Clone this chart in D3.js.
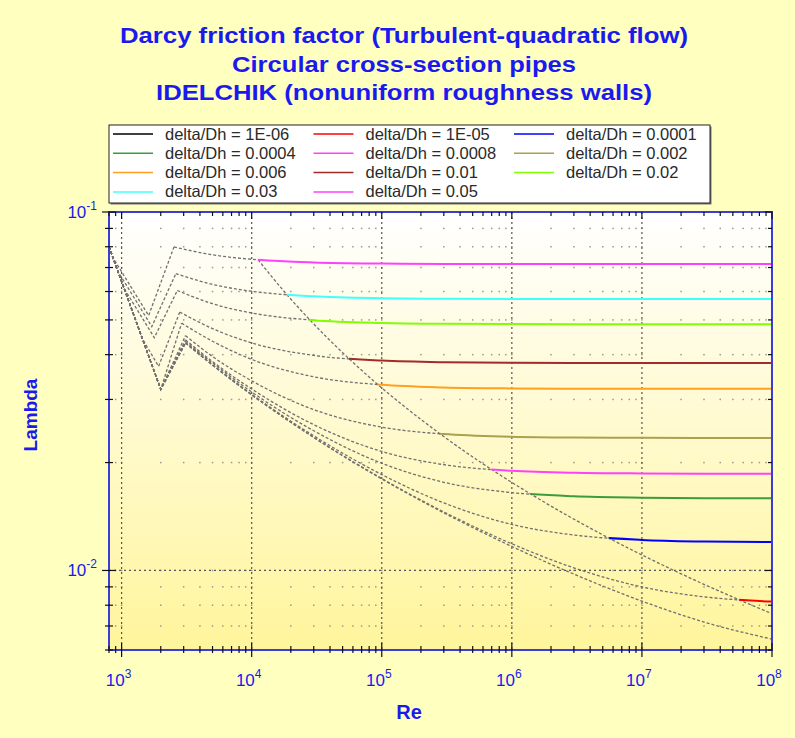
<!DOCTYPE html>
<html>
<head>
<meta charset="utf-8">
<script src="https://cdn.jsdelivr.net/npm/d3@7"></script>
<style>
  body { margin: 0; background: #ffffc0; }
  svg { display: block; font-family: 'Liberation Sans', Arial, sans-serif; }
</style>
</head>
<body>
<div id="chart"></div>
<script>
// relative roughness of every curve (legend order)
const roughness = [1e-6, 1e-5, 1e-4, 4e-4, 8e-4, 0.002, 0.006, 0.01, 0.02, 0.03, 0.05];
const legendLabels = [
  'delta/Dh = 1E-06', 'delta/Dh = 1E-05', 'delta/Dh = 0.0001',
  'delta/Dh = 0.0004', 'delta/Dh = 0.0008', 'delta/Dh = 0.002',
  'delta/Dh = 0.006', 'delta/Dh = 0.01', 'delta/Dh = 0.02',
  'delta/Dh = 0.03', 'delta/Dh = 0.05'
];
const lineColors = ['#000000', '#ff0000', '#0000ff', '#3c9c3c', '#ff40ff', '#aaa050',
                    '#ffa020', '#a52a2a', '#80ff00', '#40ffff', '#ff40ff'];

// laminar + transition part [Re, lambda], last knot = start of turbulent branch
const lowReKnots = [
  [[800, 0.08], [2000, 0.032], [3100, 0.0431]],
  [[800, 0.08], [2000, 0.032], [3100, 0.0431]],
  [[800, 0.08], [2000, 0.032], [3100, 0.0432]],
  [[800, 0.08], [2000, 0.032], [3100, 0.04355]],
  [[800, 0.08], [2000, 0.032], [3100, 0.0440]],
  [[800, 0.08], [2000, 0.032], [3100, 0.0452]],
  [[800, 0.08], [2000, 0.032], [2892, 0.04897]],
  [[800, 0.08], [1444, 0.0443], [1925, 0.0371], [2800, 0.05258]],
  [[800, 0.08], [1044, 0.0613], [1784, 0.0446], [2679, 0.0604]],
  [[800, 0.08], [936, 0.0683], [1706, 0.0479], [2611, 0.0673]],
  [[800, 0.08], [858, 0.0746], [1613, 0.0514], [2528, 0.0799]]
];

// turbulent branch, lambda read at these Re
const turbRe = [5e3, 1e4, 3e4, 1e5, 3e5, 1e6, 3e6, 1e7, 3e7, 1e8];
const turbLambda = [
  [0.0374, 0.0309, 0.02349, 0.0180, 0.014475, 0.011668, 0.009769, 0.008213, 0.007181, 0.006433],
  [0.0374, 0.0309, 0.02352, 0.01805, 0.014568, 0.01187, 0.010168, 0.008996, 0.008442, 0.008187],
  [0.03753, 0.03103, 0.02375, 0.018515, 0.015432, 0.013441, 0.012556, 0.012167, 0.012044, 0.011999],
  [0.03792, 0.03148, 0.02453, 0.01991, 0.01762, 0.01649, 0.0161, 0.01596, 0.015914, 0.0159],
  [0.03825, 0.03208, 0.02551, 0.02148, 0.01973, 0.01897, 0.01873, 0.01865, 0.018623, 0.018615],
  [0.03952, 0.03381, 0.0281, 0.02511, 0.02402, 0.02361, 0.02348, 0.02344, 0.023427, 0.023422],
  [0.0436, 0.0388, 0.0347, 0.03295, 0.0324, 0.0322, 0.032145, 0.032124, 0.03212, 0.03212],
  [0.04728, 0.04313, 0.0398, 0.0385, 0.0381, 0.03797, 0.03792, 0.03791, 0.0379, 0.0379],
  [0.05549, 0.05227, 0.04991, 0.04903, 0.04877, 0.04868, 0.048649, 0.04864, 0.04864, 0.04864],
  [0.06281, 0.06011, 0.05818, 0.05748, 0.05728, 0.05721, 0.05718, 0.05717, 0.05717, 0.05717],
  [0.07595, 0.0738, 0.07232, 0.07178, 0.07163, 0.07158, 0.07156, 0.07155, 0.07155, 0.07155]
];

// Re where each curve enters the quadratic zone (coloured from there on)
const quadStartRe = [5.6e8, 5.6e7, 5.6e6, 1.4e6, 7e5, 2.8e5, 93333, 56000, 28000, 18667, 11200];

// limit line of the quadratic zone
const limitRe = [11200, 18667, 28000, 56000, 93333, 140000, 280000, 560000, 700000, 1.4e6, 2.8e6, 5.6e6, 1.867e7, 5.6e7, 1e8];
const limitLambda = [0.07359, 0.05879, 0.05000, 0.03897, 0.03301, 0.02921, 0.02407, 0.02017, 0.01912, 0.01633, 0.0141, 0.01230, 0.009904, 0.00828, 0.007577];

const xTickExp = [3, 4, 5, 6, 7, 8];
const yTickExp = [-1, -2];
const titleLines = [
  'Darcy friction factor (Turbulent-quadratic flow)',
  'Circular cross-section pipes',
  'IDELCHIK (nonuniform roughness walls)'
];

class FrictionChart {
  constructor(_config) {
    this.config = {
      parentElement: _config.parentElement,
      containerWidth: 795,
      containerHeight: 738,
      plot: {left: 109, right: 772, top: 212, bottom: 650},
      titleWidths: [568, 344, 496],
      axisColor: '#3c3cd8',
      textColor: '#1a1aee'
    };
    this.initVis();
  }

  initVis() {
    let vis = this;
    const p = vis.config.plot;

    vis.svg = d3.select(vis.config.parentElement).append('svg')
        .attr('width', vis.config.containerWidth)
        .attr('height', vis.config.containerHeight);

    const defs = vis.svg.append('defs');
    const grad = defs.append('linearGradient')
        .attr('id', 'plotBg').attr('x1', 0).attr('y1', 0).attr('x2', 0).attr('y2', 1);
    grad.append('stop').attr('offset', '0%').attr('stop-color', '#ffffff');
    grad.append('stop').attr('offset', '100%').attr('stop-color', '#fff59c');

    defs.append('clipPath').attr('id', 'plotClip')
      .append('rect')
        .attr('x', p.left).attr('y', p.top)
        .attr('width', p.right - p.left).attr('height', p.bottom - p.top);

    vis.svg.append('rect')
        .attr('width', vis.config.containerWidth)
        .attr('height', vis.config.containerHeight)
        .attr('fill', '#ffffc0');

    vis.x = d3.scaleLog().domain([800, 1e8]).range([p.left, p.right]);
    vis.y = d3.scaleLog().domain([0.006, 0.1]).range([p.bottom, p.top]);

    vis.svg.append('rect')
        .attr('x', p.left).attr('y', p.top)
        .attr('width', p.right - p.left).attr('height', p.bottom - p.top)
        .attr('fill', 'url(#plotBg)');

    // title, stretched a bit like the original
    vis.svg.append('g').selectAll('text')
      .data(titleLines)
      .join('text')
        .attr('x', 404)
        .attr('y', (d, i) => 43 + i * 28.5)
        .attr('text-anchor', 'middle')
        .attr('font-size', 22)
        .attr('font-weight', 'bold')
        .attr('textLength', (d, i) => vis.config.titleWidths[i])
        .attr('lengthAdjust', 'spacingAndGlyphs')
        .attr('fill', vis.config.textColor)
        .text(d => d);

    vis.drawGrid();
    vis.drawCurves();
    vis.drawAxes();
    vis.drawLegend();
  }

  drawGrid() {
    let vis = this;
    const p = vis.config.plot;
    const isMajor = v => Math.abs(Math.log10(v) - Math.round(Math.log10(v))) < 1e-9;
    const xTicks = vis.x.ticks();
    const yTicks = vis.y.ticks();

    const g = vis.svg.append('g').attr('clip-path', 'url(#plotClip)');

    // dot lattice of the minor grid
    const cells = [];
    xTicks.forEach(xv => yTicks.forEach(yv => cells.push([xv, yv])));
    g.append('g').selectAll('rect')
      .data(cells)
      .join('rect')
        .attr('x', d => vis.x(d[0]) - 0.75)
        .attr('y', d => vis.y(d[1]) - 0.75)
        .attr('width', 1.5).attr('height', 1.5)
        .attr('fill', '#9a9a90');

    // major dotted lines
    g.append('g').selectAll('line')
      .data(xTicks.filter(isMajor))
      .join('line')
        .attr('x1', d => vis.x(d)).attr('x2', d => vis.x(d))
        .attr('y1', p.top).attr('y2', p.bottom)
        .attr('stroke', '#555').attr('stroke-width', 1.2)
        .attr('stroke-dasharray', '2,3');
    g.append('g').selectAll('line')
      .data(yTicks.filter(isMajor))
      .join('line')
        .attr('y1', d => vis.y(d)).attr('y2', d => vis.y(d))
        .attr('x1', p.left).attr('x2', p.right)
        .attr('stroke', '#555').attr('stroke-width', 1.2)
        .attr('stroke-dasharray', '2,3');
  }

  drawCurves() {
    let vis = this;
    const p = vis.config.plot;
    const defs = vis.svg.select('defs');

    const lineLin = d3.line().x(d => vis.x(d[0])).y(d => vis.y(d[1]));
    const lineSmooth = d3.line().x(d => vis.x(d[0])).y(d => vis.y(d[1])).curve(d3.curveMonotoneX);

    const curves = roughness.map((r, i) => {
      const knots = lowReKnots[i];
      const turb = [knots[knots.length - 1]].concat(turbRe.map((re, j) => [re, turbLambda[i][j]]));
      return {i, knots, turb, xq: Math.min(vis.x(quadStartRe[i]), p.right + 5)};
    });

    curves.forEach(c => {
      defs.append('clipPath').attr('id', 'grey' + c.i)
        .append('rect')
          .attr('x', p.left).attr('y', p.top)
          .attr('width', c.xq - p.left).attr('height', p.bottom - p.top);
      defs.append('clipPath').attr('id', 'col' + c.i)
        .append('rect')
          .attr('x', c.xq).attr('y', p.top)
          .attr('width', Math.max(0, p.right - c.xq)).attr('height', p.bottom - p.top);
    });

    const g = vis.svg.append('g').attr('clip-path', 'url(#plotClip)');

    const greyStyle = sel => sel
        .attr('fill', 'none')
        .attr('stroke', '#707070')
        .attr('stroke-width', 1.3)
        .attr('stroke-dasharray', '3,2');

    g.append('g').selectAll('path')
      .data(curves)
      .join('path')
        .attr('d', c => lineLin(c.knots))
        .call(greyStyle);

    g.append('g').selectAll('g')
      .data(curves)
      .join('g')
        .attr('clip-path', c => `url(#grey${c.i})`)
      .append('path')
        .attr('d', c => lineSmooth(c.turb))
        .call(greyStyle);

    // limit of the quadratic zone
    g.append('path')
        .datum(limitRe.map((re, j) => [re, limitLambda[j]]))
        .attr('d', lineSmooth)
        .call(greyStyle);

    g.append('g').selectAll('g')
      .data(curves)
      .join('g')
        .attr('clip-path', c => `url(#col${c.i})`)
      .append('path')
        .attr('d', c => lineSmooth(c.turb))
        .attr('fill', 'none')
        .attr('stroke', c => lineColors[c.i])
        .attr('stroke-width', 2);
  }

  drawAxes() {
    let vis = this;
    const p = vis.config.plot;
    const isMajor = v => Math.abs(Math.log10(v) - Math.round(Math.log10(v))) < 1e-9;

    const g = vis.svg.append('g');

    // frame
    g.append('rect')
        .attr('x', p.left).attr('y', p.top)
        .attr('width', p.right - p.left).attr('height', p.bottom - p.top)
        .attr('fill', 'none')
        .attr('stroke', vis.config.axisColor)
        .attr('stroke-width', 2);

    const xTicks = vis.x.ticks();
    const yTicks = vis.y.ticks();

    // bottom ticks cross the axis, top ticks point inside
    g.append('g').selectAll('line')
      .data(xTicks)
      .join('line')
        .attr('x1', d => vis.x(d)).attr('x2', d => vis.x(d))
        .attr('y1', d => p.bottom - (isMajor(d) ? 7 : 4))
        .attr('y2', d => p.bottom + (isMajor(d) ? 7 : 3))
        .attr('stroke', '#111').attr('stroke-width', 1.2);
    g.append('g').selectAll('line')
      .data(xTicks)
      .join('line')
        .attr('x1', d => vis.x(d)).attr('x2', d => vis.x(d))
        .attr('y1', p.top).attr('y2', d => p.top + (isMajor(d) ? 7 : 4))
        .attr('stroke', '#111').attr('stroke-width', 1.2);

    g.append('g').selectAll('line')
      .data(yTicks)
      .join('line')
        .attr('y1', d => vis.y(d)).attr('y2', d => vis.y(d))
        .attr('x1', d => p.left - (isMajor(d) ? 7 : 4))
        .attr('x2', d => p.left + (isMajor(d) ? 7 : 4))
        .attr('stroke', '#111').attr('stroke-width', 1.2);
    g.append('g').selectAll('line')
      .data(yTicks)
      .join('line')
        .attr('y1', d => vis.y(d)).attr('y2', d => vis.y(d))
        .attr('x1', d => p.right - (isMajor(d) ? 7 : 4)).attr('x2', p.right)
        .attr('stroke', '#111').attr('stroke-width', 1.2);

    // tick labels 10^n
    const xl = g.append('g').selectAll('text')
      .data(xTickExp)
      .join('text')
        .attr('x', d => vis.x(Math.pow(10, d)) - 3)
        .attr('y', p.bottom + 36)
        .attr('text-anchor', 'middle')
        .attr('font-size', 17)
        .attr('fill', vis.config.textColor);
    xl.append('tspan').text('10');
    xl.append('tspan').attr('dy', -8).attr('font-size', 12).text(d => d);

    const yl = g.append('g').selectAll('text')
      .data(yTickExp)
      .join('text')
        .attr('x', p.left - 12)
        .attr('y', d => vis.y(Math.pow(10, d)) + 6)
        .attr('text-anchor', 'end')
        .attr('font-size', 17)
        .attr('fill', vis.config.textColor);
    yl.append('tspan').text('10');
    yl.append('tspan').attr('dy', -8).attr('font-size', 12).text(d => d);

    // axis titles
    g.append('text')
        .attr('x', 409).attr('y', 719)
        .attr('text-anchor', 'middle')
        .attr('font-size', 20).attr('font-weight', 'bold')
        .attr('fill', vis.config.textColor)
        .text('Re');
    g.append('text')
        .attr('transform', 'translate(37,415) rotate(-90)')
        .attr('text-anchor', 'middle')
        .attr('font-size', 19).attr('font-weight', 'bold')
        .attr('fill', vis.config.textColor)
        .text('Lambda');
  }

  drawLegend() {
    let vis = this;
    const box = {x: 109, y: 125, w: 601, h: 78};

    const g = vis.svg.append('g');
    g.append('rect')
        .attr('x', box.x + 1.5).attr('y', box.y + 1.5)
        .attr('width', box.w).attr('height', box.h)
        .attr('fill', '#777');
    g.append('rect')
        .attr('x', box.x).attr('y', box.y)
        .attr('width', box.w).attr('height', box.h)
        .attr('fill', '#ffffff')
        .attr('stroke', '#222').attr('stroke-width', 1);

    const items = g.selectAll('g.item')
      .data(legendLabels)
      .join('g')
        .attr('class', 'item')
        .attr('transform', (d, i) => `translate(${box.x + 4 + (i % 3) * 200.5},${box.y + 9 + Math.floor(i / 3) * 19.3})`);
    items.append('line')
        .attr('x1', 0).attr('x2', 40)
        .attr('stroke', (d, i) => lineColors[i])
        .attr('stroke-width', 1.5);
    items.append('text')
        .attr('x', 52).attr('y', 5.5)
        .attr('font-size', 16.5)
        .attr('fill', '#2a2a2a')
        .text(d => d);
  }
}

const chart = new FrictionChart({parentElement: '#chart'});
</script>
</body>
</html>
